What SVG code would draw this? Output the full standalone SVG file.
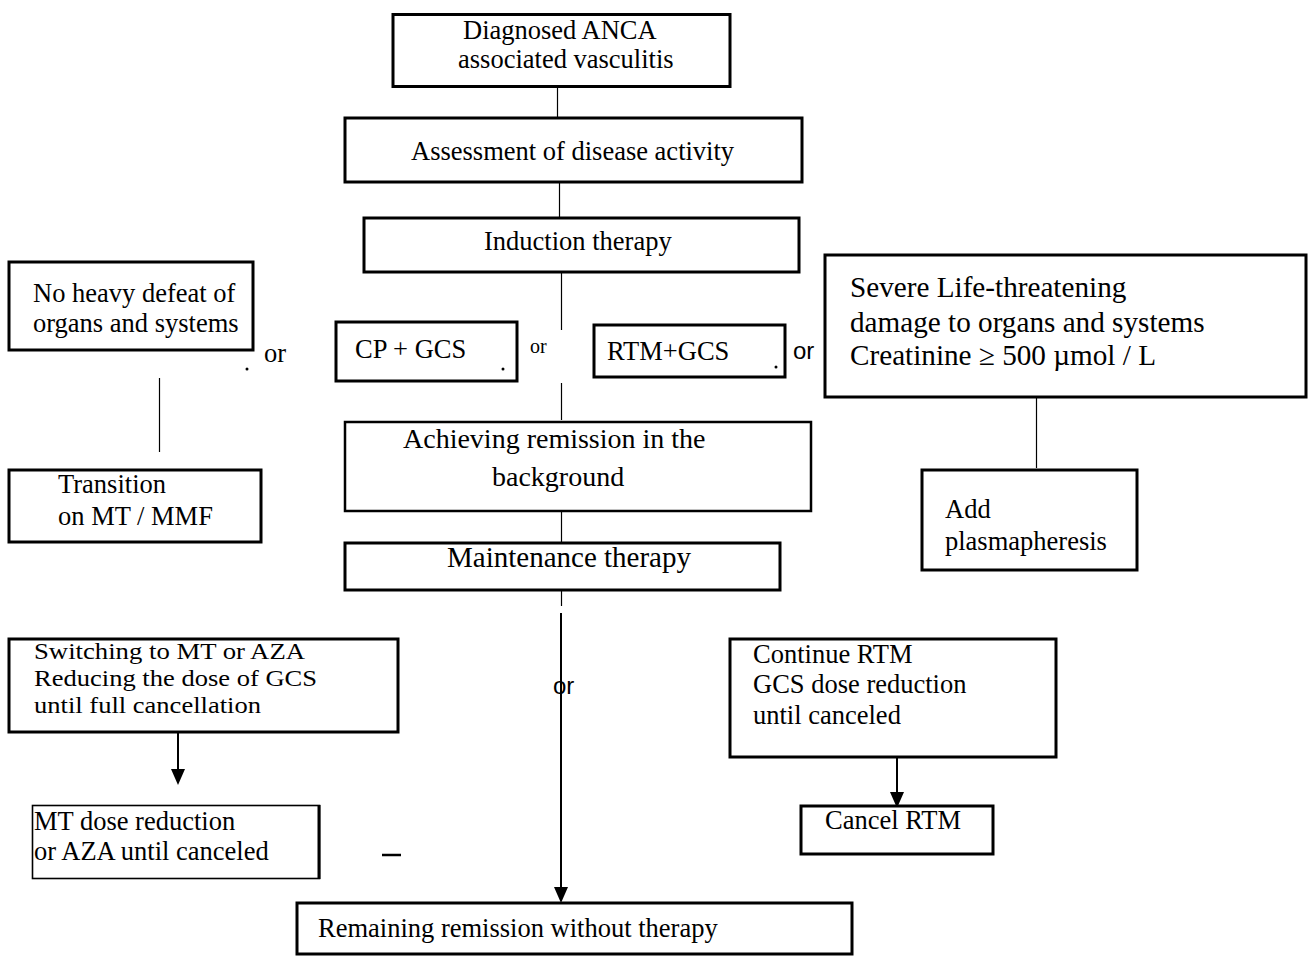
<svg xmlns="http://www.w3.org/2000/svg" width="1308" height="956" viewBox="0 0 1308 956">
<style>
.box{fill:#fff;stroke:#000;stroke-width:3}
.thin{fill:#fff;stroke:#000;stroke-width:1.6}
.t{font-family:"Liberation Serif","Times New Roman",serif;font-size:26.5px;fill:#000}
.s{font-family:"Liberation Sans",Arial,sans-serif;font-size:24px;fill:#000}
.ln{stroke:#000;stroke-width:1.2;fill:none}
.ar{stroke:#000;stroke-width:2;fill:none}
</style>
<rect width="1308" height="956" fill="#fff"/>

<g id="connectors">
<line class="ln" x1="557.5" y1="80" x2="557.5" y2="117"/>
<line class="ln" x1="559.5" y1="183" x2="559.5" y2="223"/>
<line class="ln" x1="561.5" y1="265" x2="561.5" y2="330"/>
<line class="ln" x1="561.5" y1="383" x2="561.5" y2="420"/>
<line class="ln" x1="561.5" y1="490" x2="561.5" y2="542"/>
<line class="ln" x1="561.5" y1="577" x2="561.5" y2="606"/>
<line class="ln" x1="159.5" y1="378" x2="159.5" y2="452"/>
<line class="ln" x1="1036.5" y1="385" x2="1036.5" y2="468"/>
<line class="ar" x1="561" y1="613" x2="561" y2="888"/>
<path d="M554,887 L568,887 L561,903 Z" fill="#000"/>
<line class="ar" x1="178" y1="733" x2="178" y2="770"/>
<path d="M171,769 L185,769 L178,785 Z" fill="#000"/>
<line class="ar" x1="897" y1="758" x2="897" y2="793"/>
<path d="M890,792 L904,792 L897,808 Z" fill="#000"/>
</g>

<g id="n1"><rect class="box" x="393" y="14.5" width="337" height="72"/>
<text class="t" x="463" y="39">Diagnosed ANCA</text>
<text class="t" x="458" y="68">associated vasculitis</text></g>

<g id="n2"><rect class="box" x="345" y="118" width="457" height="64"/>
<text class="t" x="411" y="160">Assessment of disease activity</text></g>

<g id="n3"><rect class="box" x="364" y="218" width="435" height="54"/>
<text class="t" x="484" y="250">Induction therapy</text></g>

<g id="n4"><rect class="box" x="9" y="262" width="244" height="88"/>
<text class="t" x="33" y="302">No heavy defeat of</text>
<text class="t" x="33" y="332">organs and systems</text></g>

<text class="t" x="264" y="362">or</text>
<circle cx="247" cy="369" r="1.5" fill="#000"/>

<g id="n5"><rect class="box" x="336" y="322" width="181" height="59"/>
<text class="t" x="355" y="358">CP + GCS</text>
<circle cx="503" cy="369" r="1.5" fill="#000"/></g>

<text class="t" x="530" y="353" style="font-size:20px">or</text>

<g id="n6"><rect class="box" x="594" y="325" width="191" height="52"/>
<text class="t" x="607" y="360">RTM+GCS</text>
<circle cx="776" cy="367" r="1.5" fill="#000"/></g>

<text class="s" x="793" y="359">or</text>

<g id="n7"><rect class="box" x="825" y="255" width="481" height="142"/>
<text class="t" x="850" y="297" style="font-size:29.2px">Severe Life-threatening</text>
<text class="t" x="850" y="332" style="font-size:29.2px">damage to organs and systems</text>
<text class="t" x="850" y="365" style="font-size:29.2px">Creatinine ≥ 500 µmol / L</text></g>

<g id="n8"><rect class="box" x="9" y="470" width="252" height="72"/>
<text class="t" x="58" y="493">Transition</text>
<text class="t" x="58" y="525">on MT / MMF</text></g>

<g id="n9"><rect class="box" x="345" y="422" width="466" height="89" style="stroke-width:2.5"/>
<text class="t" x="403" y="448" style="font-size:28px">Achieving remission in the</text>
<text class="t" x="492" y="486" style="font-size:28px">background</text></g>

<g id="n10"><rect class="box" x="922" y="470" width="215" height="100"/>
<text class="t" x="945" y="518">Add</text>
<text class="t" x="945" y="550">plasmapheresis</text></g>

<g id="n11"><rect class="box" x="345" y="543" width="435" height="47"/>
<text class="t" x="447" y="567" style="font-size:29px">Maintenance therapy</text></g>

<g id="n12"><rect class="box" x="9" y="639" width="389" height="93"/>
<text class="t" x="34" y="659" style="font-size:23.5px" textLength="271" lengthAdjust="spacingAndGlyphs">Switching to MT or AZA</text>
<text class="t" x="34" y="686" style="font-size:23.5px" textLength="283" lengthAdjust="spacingAndGlyphs">Reducing the dose of GCS</text>
<text class="t" x="34" y="713" style="font-size:23.5px" textLength="227" lengthAdjust="spacingAndGlyphs">until full cancellation</text></g>

<text class="s" x="553" y="694">or</text>

<g id="n13"><rect class="box" x="730" y="639" width="326" height="118"/>
<text class="t" x="753" y="663">Continue RTM</text>
<text class="t" x="753" y="693">GCS dose reduction</text>
<text class="t" x="753" y="724">until canceled</text></g>

<g id="n14"><rect class="thin" x="32.5" y="805.5" width="287" height="73"/>
<line x1="319" y1="805" x2="319" y2="879" stroke="#000" stroke-width="3"/>
<text class="t" x="34" y="830">MT dose reduction</text>
<text class="t" x="34" y="860">or AZA until canceled</text></g>

<line x1="382" y1="855" x2="401" y2="855" stroke="#000" stroke-width="2.5"/>

<g id="n15"><rect class="box" x="801" y="806" width="192" height="48"/>
<text class="t" x="825" y="829">Cancel RTM</text></g>

<g id="n16"><rect class="box" x="297" y="903" width="555" height="51"/>
<text class="t" x="318" y="937">Remaining remission without therapy</text></g>
</svg>
